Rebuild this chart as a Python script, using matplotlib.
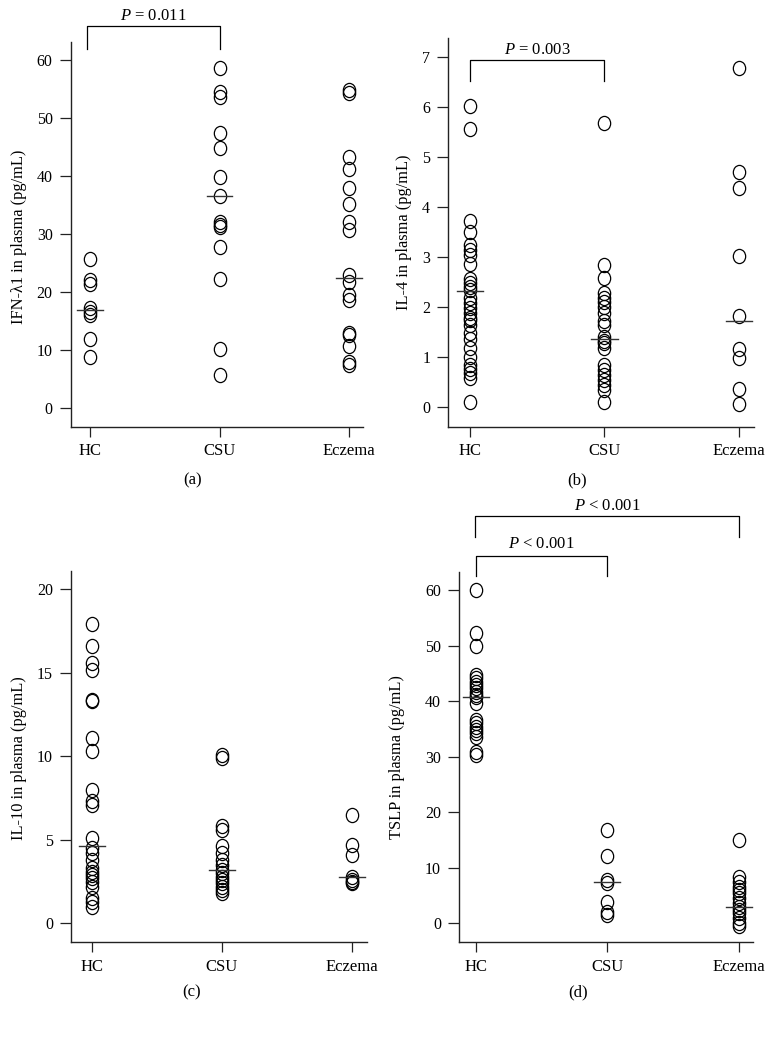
import matplotlib
matplotlib.use("Agg")
import matplotlib.pyplot as plt
from matplotlib.path import Path
from matplotlib.transforms import Affine2D
import numpy as np

plt.rcParams['font.family'] = ['Liberation Serif', 'DejaVu Serif']
plt.rcParams['mathtext.fontset'] = 'custom'
plt.rcParams['mathtext.it'] = 'Liberation Serif:italic'
plt.rcParams['mathtext.rm'] = 'Liberation Serif'

categories = ["HC", "CSU", "Eczema"]

# Panel (a) IFN-λ1
ifn_hc = [25.6, 22.0, 21.4, 17.3, 16.5, 16.0, 11.8, 8.8]
ifn_csu = [58.7, 54.5, 53.7, 47.4, 44.8, 39.9, 36.5, 32.1, 31.5, 31.2, 27.8, 22.3, 10.2, 5.6]
ifn_ecz = [54.9, 54.3, 43.3, 41.3, 37.9, 35.2, 32.1, 30.7, 22.9, 21.7, 19.4, 18.6,
           12.9, 12.5, 10.6, 7.9, 7.4]
ifn_median = [16.9, 36.5, 22.4]

# Panel (b) IL-4
il4_hc = [6.01, 5.55, 3.72, 3.51, 3.24, 3.15, 3.04, 2.87, 2.57, 2.49, 2.41, 2.34, 2.18,
          2.08, 1.98, 1.88, 1.78, 1.74, 1.64, 1.48, 1.36, 1.18, 1.01, 0.84, 0.76, 0.68,
          0.58, 0.10]
il4_csu = [5.68, 2.84, 2.59, 2.28, 2.19, 2.11, 2.01, 1.88, 1.73, 1.64, 1.41, 1.33, 1.28,
           1.18, 0.84, 0.75, 0.65, 0.55, 0.45, 0.35, 0.11]
il4_ecz = [6.77, 4.70, 4.38, 3.02, 1.82, 1.16, 0.98, 0.36, 0.06]
il4_median = [2.33, 1.36, 1.73]

# Panel (c) IL-10
il10_hc = [17.9, 16.6, 15.6, 15.2, 13.4, 13.3, 11.1, 10.3, 8.0, 7.3, 7.1, 5.1, 4.5,
           4.2, 3.8, 3.3, 3.1, 2.9, 2.7, 2.5, 2.2, 1.5, 1.3, 1.0]
il10_csu = [10.1, 9.9, 5.8, 5.6, 4.6, 4.2, 3.8, 3.5, 3.2, 3.0, 2.8, 2.6, 2.4, 2.2, 2.0, 1.8]
il10_ecz = [6.5, 4.7, 4.1, 2.8, 2.6, 2.5, 2.4]
il10_median = [4.6, 3.2, 2.75]

# Panel (d) TSLP
tslp_hc = [60.0, 52.2, 50.0, 44.7, 44.1, 43.5, 42.9, 42.3, 41.7, 41.1, 40.8, 39.6,
           36.6, 36.0, 35.4, 34.8, 34.2, 33.5, 30.9, 30.3]
tslp_csu = [16.8, 12.1, 7.8, 7.2, 3.9, 2.1, 1.5]
tslp_ecz = [15.0, 8.4, 7.5, 6.6, 6.0, 5.4, 4.5, 3.6, 3.0, 2.4, 1.8, 0.9, 0.0, -0.5]
tslp_median = [40.8, 7.4, 3.0]

W, H = 775, 1049
fig = plt.figure(figsize=(W / 100, H / 100), dpi=100)

# slightly taller-than-wide open circle marker
ellipse = Path.unit_circle().transformed(Affine2D().scale(1.0, 1.15))


def add_axes_px(left, right, top, bottom):
    return fig.add_axes([left / W, 1 - bottom / H, (right - left) / W, (bottom - top) / H])


panels = [
    dict(rect=(70.7, 363, 41.7, 426.7), xlim=(-0.149, 2.108), ylim=(-3.28, 63.2),
         yticks=[0, 10, 20, 30, 40, 50, 60], data=[ifn_hc, ifn_csu, ifn_ecz], med=ifn_median,
         ylabel="IFN-λ1 in plasma (pg/mL)", ylab_xy=(19.5, 237), letter="(a)", let_xy=(193, 480)),
    dict(rect=(448.3, 754.3, 38.3, 426.7), xlim=(-0.161, 2.114), ylim=(-0.387, 7.37),
         yticks=[0, 1, 2, 3, 4, 5, 6, 7], data=[il4_hc, il4_csu, il4_ecz], med=il4_median,
         ylabel="IL-4 in plasma (pg/mL)", ylab_xy=(404, 232), letter="(b)", let_xy=(577, 480)),
    dict(rect=(71, 366.7, 571, 942.3), xlim=(-0.162, 2.115), ylim=(-1.14, 21.1),
         yticks=[0, 5, 10, 15, 20], data=[il10_hc, il10_csu, il10_ecz], med=il10_median,
         ylabel="IL-10 in plasma (pg/mL)", ylab_xy=(19, 758), letter="(c)", let_xy=(192, 992)),
    dict(rect=(459, 753.3, 571.7, 942.3), xlim=(-0.127, 2.109), ylim=(-3.42, 63.3),
         yticks=[0, 10, 20, 30, 40, 50, 60], data=[tslp_hc, tslp_csu, tslp_ecz], med=tslp_median,
         ylabel="TSLP in plasma (pg/mL)", ylab_xy=(397, 757), letter="(d)", let_xy=(578, 992)),
]

axes = []
for p in panels:
    ax = add_axes_px(*p["rect"])
    axes.append(ax)
    for i, vals in enumerate(p["data"]):
        ax.plot([i] * len(vals), vals, linestyle="none", marker=ellipse, markersize=10.2,
                markerfacecolor="none", markeredgecolor="black", markeredgewidth=0.9,
                clip_on=False)
        ax.plot([i - 0.1, i + 0.1], [p["med"][i]] * 2, color="#333333", lw=1.0,
                clip_on=False, zorder=3)
    ax.set_xlim(*p["xlim"])
    ax.set_ylim(*p["ylim"])
    ax.set_xticks(range(3))
    ax.set_xticklabels(categories)
    ax.set_yticks(p["yticks"])
    for s in ["top", "right"]:
        ax.spines[s].set_visible(False)
    for s in ["left", "bottom"]:
        ax.spines[s].set_linewidth(1.0)
        ax.spines[s].set_color("#222222")
    ax.tick_params(axis="y", direction="out", length=8, width=0.9, labelsize=11.5,
                   pad=5, colors="#222222", labelcolor="black")
    ax.tick_params(axis="x", direction="out", length=7, width=0.9, labelsize=12,
                   pad=5, colors="#222222", labelcolor="black")
    ax.patch.set_visible(False)
    fig.text(p["ylab_xy"][0] / W, 1 - p["ylab_xy"][1] / H, p["ylabel"], rotation=90,
             ha="center", va="center", fontsize=11.8)
    fig.text(p["let_xy"][0] / W, 1 - p["let_xy"][1] / H, p["letter"],
             ha="center", va="center", fontsize=12)


def bracket(ax, x0, x1, ybottom, ytop, text, text_y):
    ax.plot([x0, x0, x1, x1], [ybottom, ytop, ytop, ybottom], color="black", lw=0.9,
            clip_on=False)
    ax.text((x0 + x1) / 2, text_y, text, ha="center", va="center", fontsize=12,
            clip_on=False)


ax = axes[0]
bracket(ax, -0.025, 1.0, 62.0, 65.9, r"$P$ = 0.011", 67.6)
ax = axes[1]
bracket(ax, 0.0, 1.0, 6.51, 6.94, r"$P$ = 0.003", 7.14)
ax = axes[3]
bracket(ax, 0.0, 1.0, 62.6, 66.2, r"$P$ < 0.001", 68.3)
bracket(ax, -0.005, 2.0, 69.6, 73.3, r"$P$ < 0.001", 75.1)

fig.savefig("out.png", dpi=100)
